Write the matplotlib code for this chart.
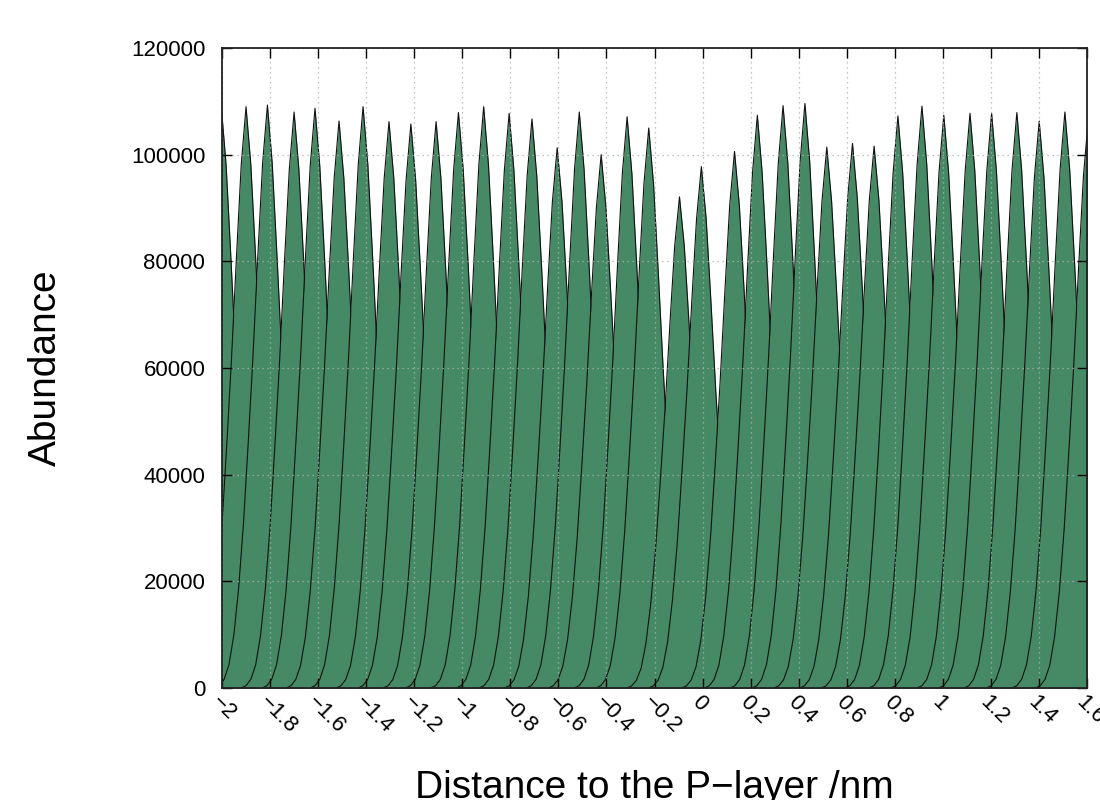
import matplotlib
matplotlib.use("Agg")
import matplotlib.pyplot as plt
from matplotlib.ticker import FixedLocator, FuncFormatter
import numpy as np

# ---- data ----
# peak position (nm) of each umbrella window histogram
window_centers = [-2.003, -1.900, -1.811, -1.700, -1.613, -1.513, -1.413, -1.305,
                  -1.214, -1.109, -1.016, -0.911, -0.805, -0.710, -0.605, -0.513,
                  -0.422, -0.314, -0.224, -0.096, -0.005, 0.133, 0.228, 0.335,
                  0.426, 0.517, 0.624, 0.714, 0.813, 0.913, 1.004, 1.113,
                  1.203, 1.308, 1.401, 1.508, 1.605]
# peak abundance of each window
window_peaks = [109000, 109000, 109300, 108000, 108700, 106300, 109000, 106200,
                105750, 106200, 107900, 109000, 107750, 106700, 101300, 108000,
                100000, 107100, 105000, 92100, 97750, 100600, 107400, 109200,
                109600, 101400, 102100, 101600, 107250, 109100, 107400, 107750,
                107750, 107900, 106300, 108000, 106500]
# shared histogram shape: offset from peak (nm) and relative abundance
profile_offsets = [-0.22, -0.20, -0.18, -0.16, -0.14, -0.12, -0.10, -0.08, -0.06,
                   -0.04, -0.02, 0.00, 0.02, 0.04, 0.06, 0.08, 0.10, 0.12, 0.14,
                   0.16, 0.18, 0.20, 0.22]
profile_values = [0.0, 0.004, 0.015, 0.04, 0.09, 0.17, 0.28, 0.42, 0.57,
                  0.74, 0.90, 1.00, 0.90, 0.74, 0.57, 0.42, 0.28, 0.17, 0.09,
                  0.04, 0.015, 0.004, 0.0]

x_ticks = [-2, -1.8, -1.6, -1.4, -1.2, -1, -0.8, -0.6, -0.4, -0.2, 0,
           0.2, 0.4, 0.6, 0.8, 1, 1.2, 1.4, 1.6]
y_ticks = [0, 20000, 40000, 60000, 80000, 100000, 120000]

plt.rcParams['font.family'] = ['Liberation Sans', 'DejaVu Sans']

fig = plt.figure(figsize=(11, 8), dpi=100)
ax = fig.add_axes([222 / 1100, 1 - 688 / 800, 865 / 1100, 640 / 800])

fill_color = '#458a64'
offs = np.array(profile_offsets)
vals = np.array(profile_values)
for i, (c, h) in enumerate(zip(window_centers, window_peaks)):
    xs = c + offs
    ys = h * vals
    z = 1.0 + i * 0.03
    ax.fill_between(xs, 0, ys, color=fill_color, linewidth=0, zorder=z)
    ax.plot(xs, ys, color='#111111', linewidth=0.8, zorder=z + 0.015)

ax.set_xlim(-2, 1.6)
ax.set_ylim(0, 120000)

ax.xaxis.set_major_locator(FixedLocator(x_ticks))
ax.yaxis.set_major_locator(FixedLocator(y_ticks))
ax.xaxis.set_major_formatter(FuncFormatter(lambda v, p: ('%g' % v).replace('-', '\u2212')))
ax.yaxis.set_major_formatter(FuncFormatter(lambda v, p: '%d' % v))

ax.grid(True, color='#b0b0b0', linestyle=(0, (1, 3)), linewidth=0.9)
ax.set_axisbelow(False)

ax.tick_params(direction='in', length=7, width=1, top=True, right=True,
               labelsize=16, colors='black')
ax.tick_params(axis='y', pad=12)
ax.tick_params(axis='x', pad=3)
for lbl in ax.get_xticklabels():
    lbl.set_rotation(-45)
    lbl.set_ha('left')
    lbl.set_va('top')
    lbl.set_rotation_mode('anchor')

for sp in ax.spines.values():
    sp.set_linewidth(1.3)
    sp.set_color('#222222')
    sp.set_zorder(5)

ax.set_xlabel('Distance to the P\u2212layer /nm', fontsize=28)
ax.set_ylabel('Abundance', fontsize=28)
ax.xaxis.set_label_coords(0.5, -0.128)
ax.yaxis.set_label_coords(-0.183, 0.5)

fig.savefig('out.png', dpi=100)
